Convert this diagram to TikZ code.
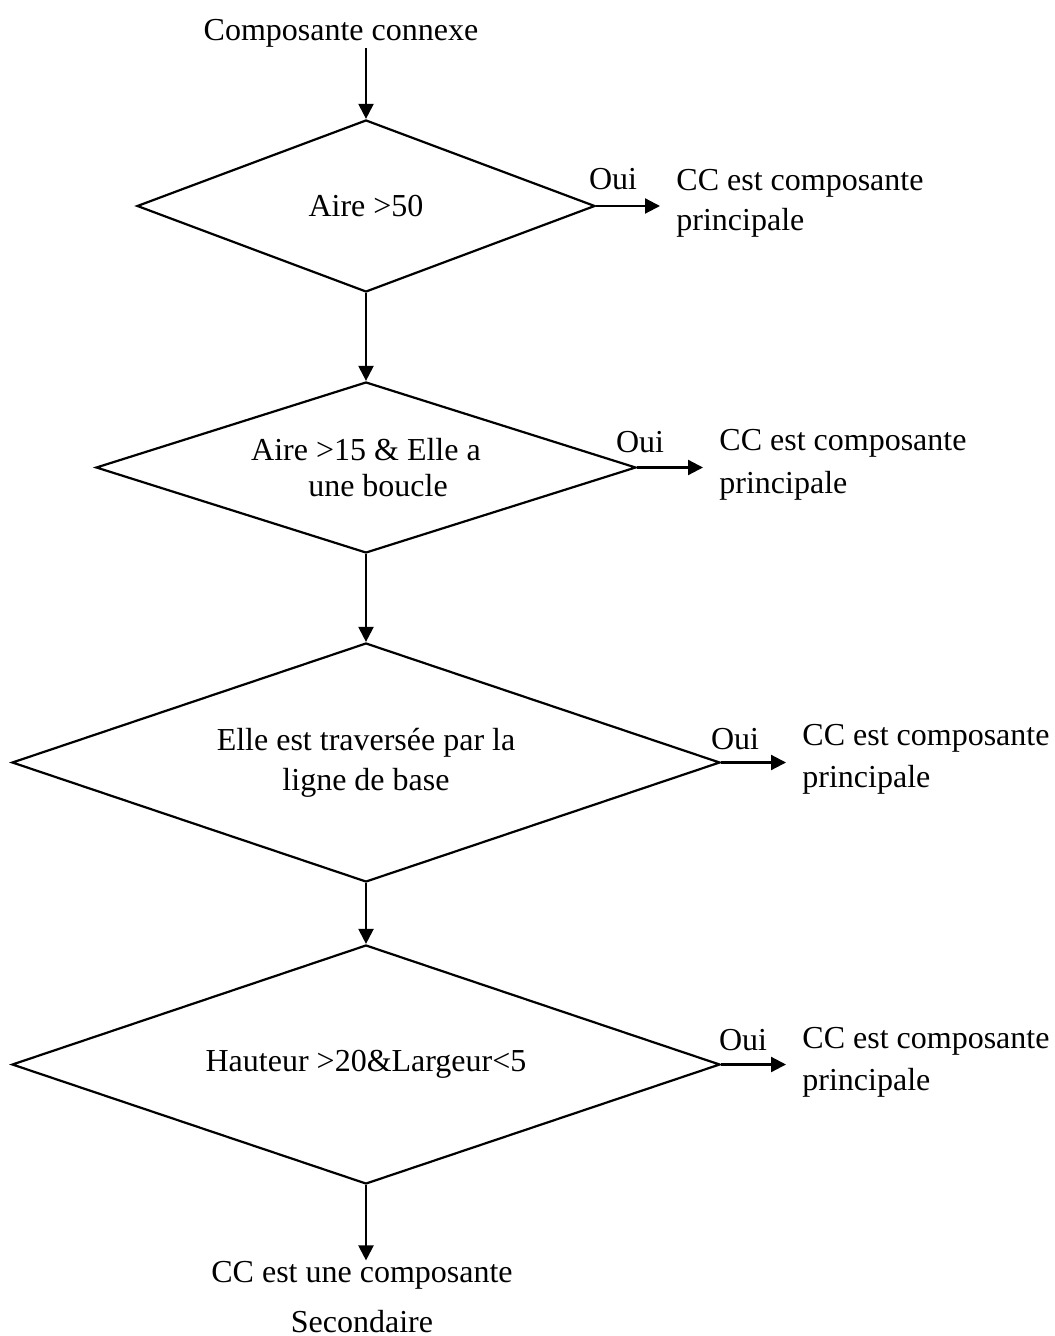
\documentclass[tikz,border=0pt]{standalone}
\usepackage{fontspec}
\setmainfont{Liberation Serif}
\usetikzlibrary{shapes.geometric,arrows.meta}
\begin{document}
\begin{tikzpicture}[x=0.5pt,y=-0.5pt,
  every node/.style={font=\fontsize{16}{18}\selectfont},
  decision/.style={diamond,draw,line width=1.1pt,inner sep=0pt,align=center},
  txt/.style={inner sep=0pt,anchor=base},
  result/.style={inner ysep=0pt,inner xsep=8pt,anchor=base west},
  flow/.style={line width=1.1pt,-{Triangle[length=7.5pt,width=7.5pt]}}]
\useasboundingbox (0,0) rectangle (1054,1336);

% start label
\node[txt] (start) at (341,41) {Composante connexe};

% decision diamonds (sizes in pt: half the pixel extents)
\node[decision,aspect=2.66,minimum width=229pt,minimum height=86pt] (d1) at (366,206) {Aire >50};
\node[decision,aspect=3.16,minimum width=270pt,minimum height=85.5pt] (d2) at (366,467.5) {Aire >15 \& Elle a\\\hspace*{12pt}une boucle};
\node[decision,aspect=2.96,minimum width=354pt,minimum height=119.5pt] (d3) at (366,762.5) {Elle est traversée par la\\[2pt]ligne de base};
\node[decision,aspect=2.96,minimum width=354pt,minimum height=119.5pt] (d4) at (366,1064.5) {Hauteur >20\&Largeur<5};

% "Oui" branches
\node[txt] (o1) at (613,190) {Oui};
\node[txt] (o2) at (640,452) {Oui};
\node[txt] (o3) at (735,749) {Oui};
\node[txt] (o4) at (743,1050) {Oui};

\node[result] (r1) at (660,191) {CC est composante};
\node[result] (r1b) at (660,231) {principale};
\node[result] (r2) at (703,451) {CC est composante};
\node[result] (r2b) at (703,493) {principale};
\node[result] (r3) at (786,745) {CC est composante};
\node[result] (r3b) at (786,787) {principale};
\node[result] (r4) at (786,1048) {CC est composante};
\node[result] (r4b) at (786,1090) {principale};

% final outcome
\node[txt] (b1) at (362,1282) {CC est une composante};
\node[txt] (b2) at (362,1332) {Secondaire};

% main flow
\draw[flow] (start.south -| d1.north) -- (d1.north);
\draw[flow] (d1.south) -- (d2.north);
\draw[flow] (d2.south) -- (d3.north);
\draw[flow] (d3.south) -- (d4.north);
\draw[flow] (d4.south) -- (d4.south |- b1.north);

% yes branches
\draw[flow] (d1.east) -- (d1.east -| r1.west);
\draw[flow] (d2.east) -- (d2.east -| r2.west);
\draw[flow] (d3.east) -- (d3.east -| r3.west);
\draw[flow] (d4.east) -- (d4.east -| r4.west);
\end{tikzpicture}
\end{document}
